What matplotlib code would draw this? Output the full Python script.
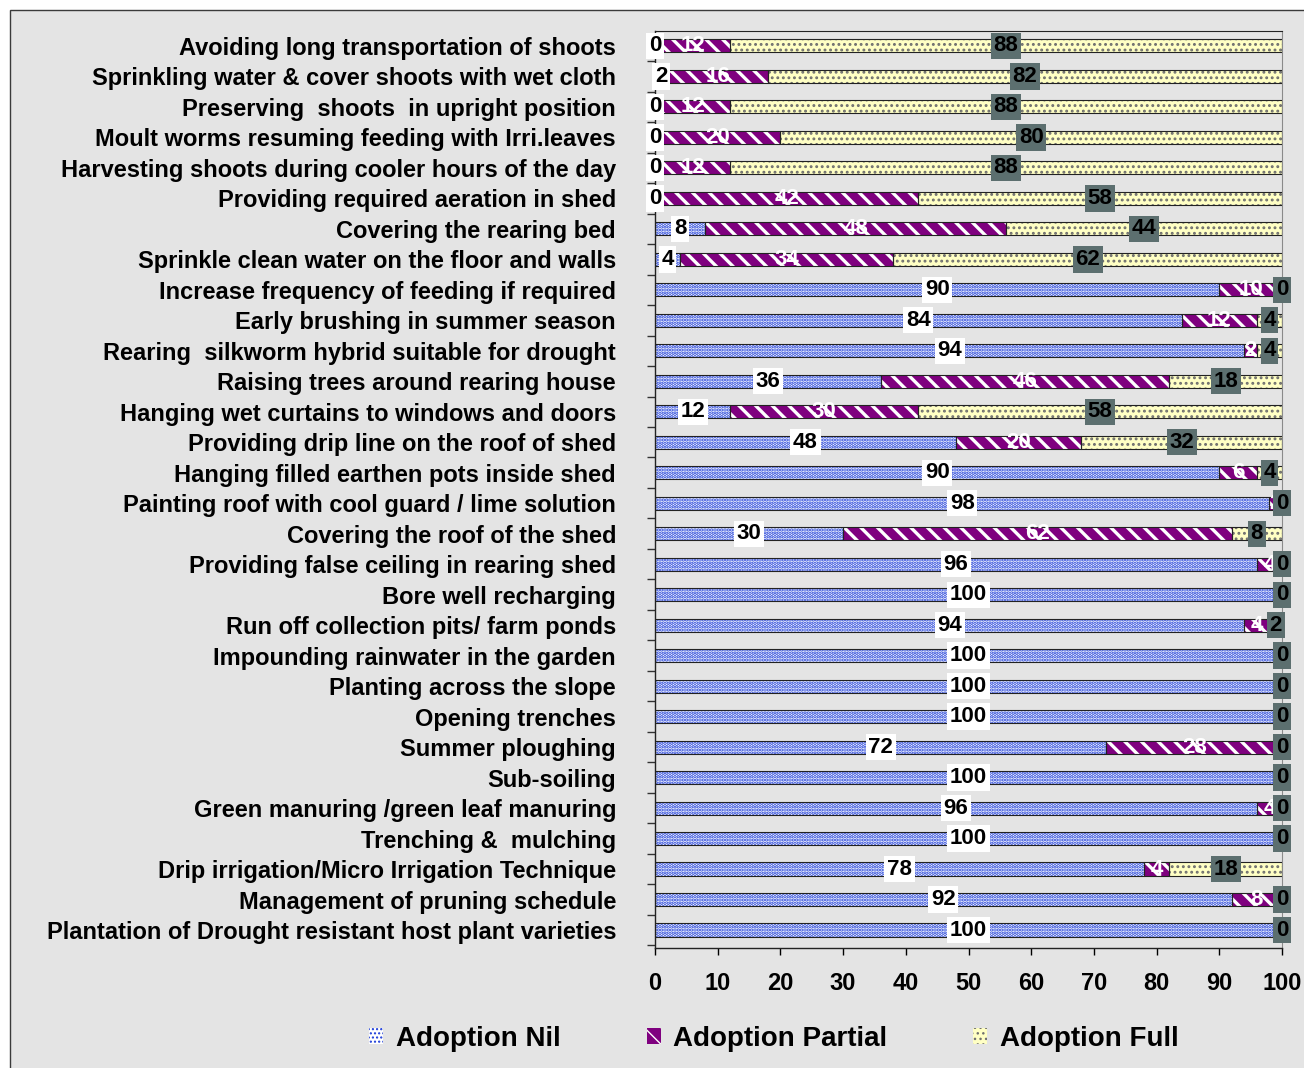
import matplotlib
matplotlib.use("Agg")
import matplotlib.pyplot as plt
from matplotlib.patches import Patch, Rectangle
from matplotlib.ticker import FixedLocator
import numpy as np

categories = [
    "Avoiding long transportation of shoots",
    "Sprinkling water & cover shoots with wet cloth",
    "Preserving  shoots  in upright position",
    "Moult worms resuming feeding with Irri.leaves",
    "Harvesting shoots during cooler hours of the day",
    "Providing required aeration in shed",
    "Covering the rearing bed",
    "Sprinkle clean water on the floor and walls",
    "Increase frequency of feeding if required",
    "Early brushing in summer season",
    "Rearing  silkworm hybrid suitable for drought",
    "Raising trees around rearing house",
    "Hanging wet curtains to windows and doors",
    "Providing drip line on the roof of shed",
    "Hanging filled earthen pots inside shed",
    "Painting roof with cool guard / lime solution",
    "Covering the roof of the shed",
    "Providing false ceiling in rearing shed",
    "Bore well recharging",
    "Run off collection pits/ farm ponds",
    "Impounding rainwater in the garden",
    "Planting across the slope",
    "Opening trenches",
    "Summer ploughing",
    "Sub-soiling",
    "Green manuring /green leaf manuring",
    "Trenching &  mulching",
    "Drip irrigation/Micro Irrigation Technique",
    "Management of pruning schedule",
    "Plantation of Drought resistant host plant varieties",
]

adoption_nil = [0, 2, 0, 0, 0, 0, 8, 4, 90, 84, 94, 36, 12, 48, 90, 98, 30, 96,
                100, 94, 100, 100, 100, 72, 100, 96, 100, 78, 92, 100]
adoption_partial = [12, 16, 12, 20, 12, 42, 48, 34, 10, 12, 2, 46, 30, 20, 6, 2, 62, 4,
                    0, 4, 0, 0, 0, 28, 0, 4, 0, 4, 8, 0]
adoption_full = [88, 82, 88, 80, 88, 58, 44, 62, 0, 4, 4, 18, 58, 32, 4, 0, 8, 0,
                 0, 2, 0, 0, 0, 0, 0, 0, 0, 18, 0, 0]

series_names = ["Adoption Nil", "Adoption Partial", "Adoption Full"]
x_ticks = [0, 10, 20, 30, 40, 50, 60, 70, 80, 90, 100]

BG = "#e4e4e4"
NIL_FACE, NIL_DOT = "#ffffff", "#1a3ad8"
PART_FACE, PART_STRIPE = "#7f007f", "#ffffff"
FULL_FACE, FULL_DOT = "#ffffc4", "#6f6f6f"
FULL_BOX = "#5c6f6f"

plt.rcParams["font.family"] = ["Liberation Sans", "DejaVu Sans"]
plt.rcParams["font.weight"] = "bold"

fig = plt.figure(figsize=(13.04, 10.68), dpi=100, facecolor="white")
fig.patches.append(Rectangle((10 / 1304, -0.1), 1.2, 1 - 10 / 1068 + 0.1,
                             transform=fig.transFigure, facecolor=BG,
                             edgecolor="#3a3a3a", linewidth=1.0, zorder=-10))

ax = fig.add_axes([655 / 1304, 1 - 948 / 1068, (1282 - 655) / 1304, (948 - 31) / 1068])
ax.set_facecolor("none")

y = np.arange(len(categories))
h = 0.43
nil = np.array(adoption_nil, dtype=float)
part = np.array(adoption_partial, dtype=float)
full = np.array(adoption_full, dtype=float)


def hatched_bars(left, width, face, hcolor, hatch, hlw):
    with plt.rc_context({"hatch.linewidth": hlw}):
        bars = ax.barh(y, width, left=left, height=h, color=face,
                       edgecolor=hcolor, hatch=hatch, linewidth=0, zorder=2)
    for b in bars:
        if hasattr(b, "set_hatch_linewidth"):
            b.set_hatch_linewidth(hlw)
    ax.barh(y, width, left=left, height=h, fill=False,
            edgecolor="#222222", linewidth=0.8, zorder=3)
    return bars


hatched_bars(0, nil, NIL_FACE, NIL_DOT, ".....", 1.7)
hatched_bars(nil, part, PART_FACE, PART_STRIPE, "\\\\", 2.4)
hatched_bars(nil + part, full, FULL_FACE, FULL_DOT, "...", 1.3)

label_font = dict(fontsize=16, fontweight="bold",
                  family=["Liberation Sans Narrow", "Liberation Sans", "DejaVu Sans"])
for i in range(len(categories)):
    ax.text(nil[i] / 2, y[i], f"{int(nil[i])}", ha="center", va="center",
            color="black", zorder=6, clip_on=False,
            bbox=dict(boxstyle="square,pad=0.12", facecolor="white", edgecolor="none"),
            **label_font)
    if part[i] > 0:
        ax.text(nil[i] + part[i] / 2, y[i], f"{int(part[i])}", ha="center",
                va="center", color="white", zorder=6, clip_on=False, **label_font)
    ax.text(nil[i] + part[i] + full[i] / 2, y[i], f"{int(full[i])}", ha="center",
            va="center", color="black", zorder=7, clip_on=False,
            bbox=dict(boxstyle="square,pad=0.12", facecolor=FULL_BOX, edgecolor="none"),
            **label_font)

ax.set_xlim(0, 100)
ax.set_ylim(len(categories) - 1 + 0.59, -0.49)
ax.set_xticks(x_ticks)
ax.set_xticklabels([str(t) for t in x_ticks], fontsize=17, fontweight="bold")
ax.tick_params(axis="x", direction="out", length=5, width=1, pad=12, colors="black")
ax.set_yticks(y)
ax.set_yticklabels(categories, fontsize=17, fontweight="bold")
ax.tick_params(axis="y", which="major", length=0, pad=28)
ax.yaxis.set_minor_locator(FixedLocator(np.arange(len(categories) + 1) - 0.5))
ax.tick_params(axis="y", which="minor", length=6, width=1, direction="out", color="#333333")

for side in ("left", "bottom"):
    ax.spines[side].set_color("#222222")
    ax.spines[side].set_linewidth(1.0)
ax.spines["top"].set_color("#222222")
ax.spines["right"].set_color("#8a8a8a")

handles = [
    Patch(facecolor=NIL_FACE, edgecolor=NIL_DOT, hatch="....", linewidth=0),
    Patch(facecolor=PART_FACE, edgecolor=PART_STRIPE, hatch="\\\\", linewidth=0),
    Patch(facecolor=FULL_FACE, edgecolor=FULL_DOT, hatch="...", linewidth=0),
]
fig.legend(handles, series_names, loc="center", bbox_to_anchor=(774 / 1304, 0.027),
           ncol=3, frameon=False, prop=dict(size=20, weight="bold"),
           handlelength=0.5, handleheight=0.5, handletextpad=0.45,
           columnspacing=3.1)

fig.savefig("out.png", dpi=100, facecolor="white")
